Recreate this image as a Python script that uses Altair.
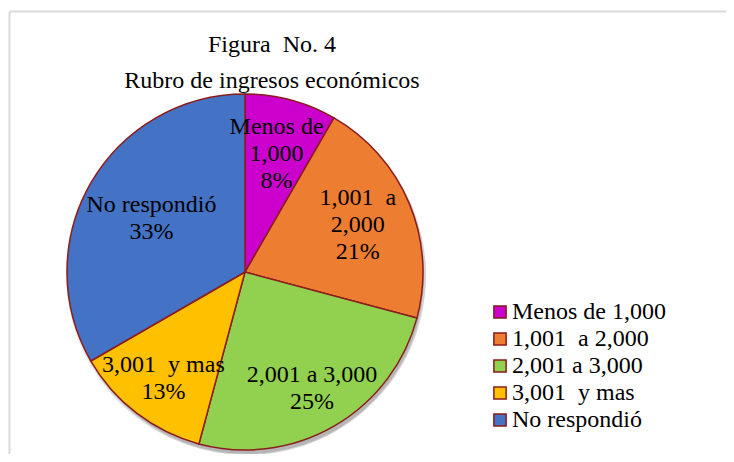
import altair as alt
import pandas as pd

# ---- data ----
categories = ["Menos de 1,000", "1,001\u00a0 a 2,000", "2,001 a 3,000", "3,001\u00a0 y mas", "No respondió"]
counts = [2, 5, 6, 3, 8]
pct_labels = ["8%", "21%", "25%", "13%", "33%"]
slice_names = ["Menos de\n1,000", "1,001\u00a0 a\n2,000", "2,001 a 3,000", "3,001\u00a0 y mas", "No respondió"]
colors = ["#CC00CC", "#ED7D31", "#92D050", "#FFC000", "#4472C4"]
title_lines = ["Figura\u00a0 No. 4", "Rubro de ingresos económicos"]

df = pd.DataFrame({
    "categoria": categories,
    "n": counts,
    "orden": list(range(len(categories))),
    "etiqueta": [s + "\n" + p for s, p in zip(slice_names, pct_labels)],
})

FONT = "Liberation Serif"
W, H = 718, 446
CX, CY, R = 237, 264, 178
LH = 27

theta = alt.Theta("n:Q", stack=True)
order = alt.Order("orden:Q", sort="ascending")
base = alt.Chart(df)

# frame lines
one = alt.Chart(pd.DataFrame({"a": [0]}))
frame_left = one.mark_rule(color="#d9d9d9", strokeWidth=2).encode(
    x=alt.value(1.5), y=alt.value(3.5), y2=alt.value(H))
frame_top = one.mark_rule(color="#d9d9d9", strokeWidth=2).encode(
    x=alt.value(1.5), x2=alt.value(W), y=alt.value(3.5))

# soft shadow
shadows = []
for dx, dy, r, op in [(1, 3, 180, 0.08), (2, 4, 179, 0.10), (2, 5, 177, 0.14)]:
    shadows.append(
        base.mark_arc(outerRadius=r, fill="#000000", opacity=op).encode(
            theta=theta, order=order, x=alt.value(CX + dx), y=alt.value(CY + dy))
    )

pie = base.mark_arc(outerRadius=R, stroke="#8B1C1C", strokeWidth=1.5).encode(
    theta=theta,
    order=order,
    x=alt.value(CX),
    y=alt.value(CY),
    color=alt.Color(
        "categoria:N",
        scale=alt.Scale(domain=categories, range=colors),
        legend=alt.Legend(
            title=None, orient="none", legendX=480, legendY=292,
            symbolType="square", symbolSize=150, symbolStrokeColor="#8B1C1C",
            symbolStrokeWidth=1.5, symbolOpacity=1,
            labelFont=FONT, labelFontSize=24, labelColor="black",
            labelOffset=0, rowPadding=3, padding=0, labelLimit=400,
        ),
    ),
)

stacked = base.transform_stack(
    stack="n", as_=["s0", "s1"], groupby=[], sort=[alt.SortField("orden", order="ascending")]
).transform_calculate(mid="(datum.s0 + datum.s1) / 2")


def label_layer(sel, radius, nlines):
    return stacked.transform_filter(
        alt.FieldOneOfPredicate(field="orden", oneOf=sel)
    ).mark_text(
        radius=radius, font=FONT, fontSize=24, lineBreak="\n", lineHeight=LH,
        color="black", align="center", baseline="middle", dy=-(nlines - 1) * LH / 2,
    ).encode(
        theta=alt.Theta("mid:Q", stack=None),
        text="etiqueta:N", x=alt.value(CX), y=alt.value(CY),
    )


labels3 = label_layer([0, 1], 122, 3)
labels2a = label_layer([2, 3], 134, 2)
labels2b = label_layer([4], 108, 2)

title = one.mark_text(
    font=FONT, fontSize=24, lineHeight=36, color="black",
    align="center", baseline="alphabetic",
).encode(x=alt.value(264), y=alt.value(44), text=alt.value(title_lines))

chart = alt.layer(
    frame_left, frame_top, *shadows, pie, labels3, labels2a, labels2b, title
).properties(
    width=W, height=H,
    autosize=alt.AutoSizeParams(type="none"),
    padding=0,
).configure_view(stroke=None)

chart.save("out.html", embed_options={"renderer": "svg", "actions": False})
